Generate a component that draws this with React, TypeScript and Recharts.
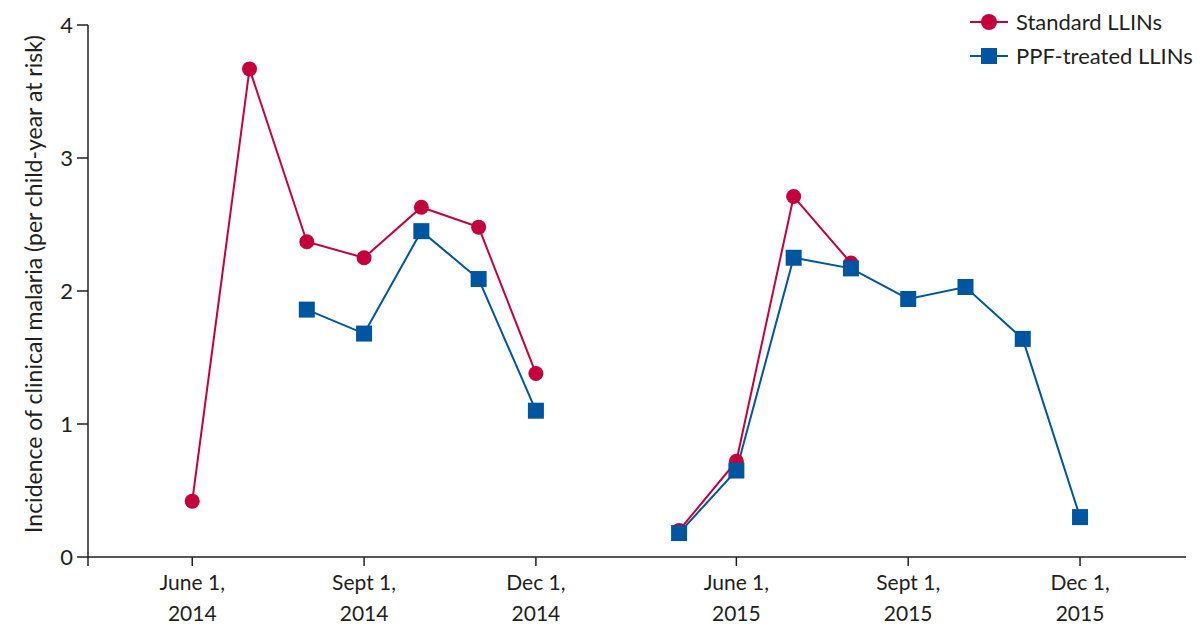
import { LineChart, Line, XAxis, YAxis, Legend } from 'recharts';

// monthly incidence, first of each month
const months2014 = ['Jun 2014', 'Jul 2014', 'Aug 2014', 'Sep 2014', 'Oct 2014', 'Nov 2014', 'Dec 2014'];
const standard2014 = [0.42, 3.67, 2.37, 2.25, 2.63, 2.48, 1.38];
const ppf2014 = [null, null, 1.86, 1.68, 2.45, 2.09, 1.1];

const months2015 = ['May 2015', 'Jun 2015', 'Jul 2015', 'Aug 2015', 'Sep 2015', 'Oct 2015', 'Nov 2015', 'Dec 2015'];
const standard2015 = [0.2, 0.72, 2.71, 2.21, null, null, null, null];
const ppf2015 = [0.18, 0.65, 2.25, 2.17, 1.94, 2.03, 1.64, 0.3];

// the axis is broken between the two seasons: 2015 starts 8.5 "months" after June 2014
const SEASON2_OFFSET = 8.5;

const tickPositions = [0, 3, 6, 9.5, 12.5, 15.5];
const tickMonths = ['June 1,', 'Sept 1,', 'Dec 1,', 'June 1,', 'Sept 1,', 'Dec 1,'];
const tickYears = ['2014', '2014', '2014', '2015', '2015', '2015'];

const RED = '#c4003c';
const BLUE = '#0055a0';
const INK = '#231f20';
const FONT = 'Lato, "Open Sans", sans-serif';
const X_MIN = -1.82;

const toRows = (labels: string[], values: (number | null)[], offset: number) =>
  labels
    .map((month, i) => ({ month, t: i + offset, value: values[i] }))
    .filter((r) => r.value !== null);

const std14 = toRows(months2014, standard2014, 0);
const ppf14 = toRows(months2014, ppf2014, 0);
const std15 = toRows(months2015, standard2015, SEASON2_OFFSET);
const ppf15 = toRows(months2015, ppf2015, SEASON2_OFFSET);

const CircleDot = (props: any) => {
  const { cx, cy, key } = props;
  if (cx == null || cy == null) return <g key={key} />;
  return <circle key={key} cx={cx} cy={cy} r={7.5} fill={RED} />;
};

const SquareDot = (props: any) => {
  const { cx, cy, key } = props;
  if (cx == null || cy == null) return <g key={key} />;
  return <rect key={key} x={cx - 8} y={cy - 8} width={16} height={16} fill={BLUE} />;
};

const DateTick = (props: any) => {
  const { x, y, payload } = props;
  const i = tickPositions.indexOf(payload.value);
  if (i < 0) return <g />;
  return (
    <g>
      <text x={x} y={y + 22} textAnchor="middle" fill={INK} fontSize={21} fontFamily={FONT}>
        {tickMonths[i]}
      </text>
      <text x={x} y={y + 53} textAnchor="middle" fill={INK} fontSize={21} fontFamily={FONT}>
        {tickYears[i]}
      </text>
    </g>
  );
};

const LegendBox = () => (
  <svg width={230} height={70} style={{ overflow: 'visible' }}>
    <line x1={2} y1={14} x2={40} y2={14} stroke={RED} strokeWidth={2} />
    <circle cx={21} cy={14} r={8} fill={RED} />
    <text x={48} y={22} fill={INK} fontSize={22} fontFamily={FONT}>
      Standard LLINs
    </text>
    <line x1={2} y1={48} x2={40} y2={48} stroke={BLUE} strokeWidth={2} />
    <rect x={13} y={40} width={16} height={16} fill={BLUE} />
    <text x={48} y={56} fill={INK} fontSize={22} fontFamily={FONT}>
      PPF-treated LLINs
    </text>
  </svg>
);

export default function App() {
  return (
    <div style={{ position: 'absolute', left: 0, top: 0, background: '#fff' }}>
      <LineChart width={1200} height={637} margin={{ top: 25, right: 14, left: 0, bottom: 0 }}>
        <XAxis
          type="number"
          dataKey="t"
          domain={[X_MIN, 17.35]}
          ticks={[X_MIN, ...tickPositions]}
          tick={<DateTick />}
          tickSize={9}
          height={80}
          axisLine={{ stroke: INK, strokeWidth: 1.5 }}
          tickLine={{ stroke: INK, strokeWidth: 1.5 }}
          allowDataOverflow
        />
        <YAxis
          type="number"
          domain={[0, 4]}
          ticks={[0, 1, 2, 3, 4]}
          width={88}
          tickSize={11}
          tickMargin={4}
          axisLine={{ stroke: INK, strokeWidth: 1.5 }}
          tickLine={{ stroke: INK, strokeWidth: 1.5 }}
          tick={{ fill: INK, fontSize: 22, fontFamily: FONT }}
          label={{
            content: () => (
              <text
                x={33}
                y={284}
                transform="rotate(-90 33 284)"
                textAnchor="middle"
                dominantBaseline="central"
                fill={INK}
                fontSize={23}
                fontFamily={FONT}
              >
                Incidence of clinical malaria (per child-year at risk)
              </text>
            ),
          }}
        />
        <Legend
          layout="vertical"
          align="center"
          verticalAlign="middle"
          content={<LegendBox />}
          wrapperStyle={{ position: 'absolute', left: 968, top: 8, width: 230 }}
        />
        <Line data={std14} dataKey="value" name="Standard LLINs" stroke={RED} strokeWidth={2} dot={<CircleDot />} isAnimationActive={false} legendType="circle" />
        <Line data={std15} dataKey="value" name="Standard LLINs 2015" stroke={RED} strokeWidth={2} dot={<CircleDot />} isAnimationActive={false} legendType="none" />
        <Line data={ppf14} dataKey="value" name="PPF-treated LLINs" stroke={BLUE} strokeWidth={2} dot={<SquareDot />} isAnimationActive={false} legendType="square" />
        <Line data={ppf15} dataKey="value" name="PPF-treated LLINs 2015" stroke={BLUE} strokeWidth={2} dot={<SquareDot />} isAnimationActive={false} legendType="none" />
      </LineChart>
    </div>
  );
}
